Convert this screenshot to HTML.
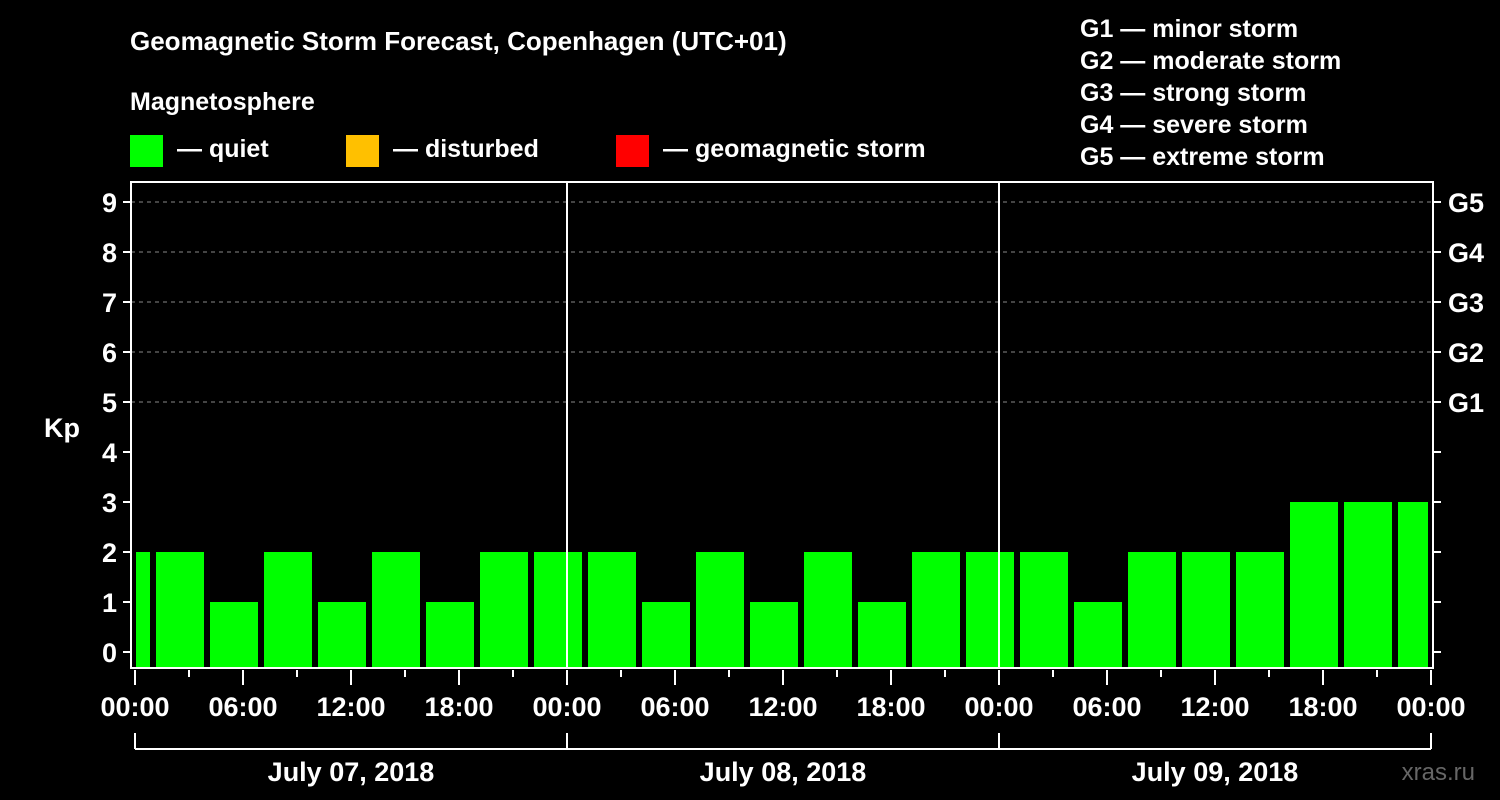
<!DOCTYPE html>
<html><head><meta charset="utf-8"><style>
html,body{margin:0;padding:0;background:#000;}
svg{display:block;font-family:"Liberation Sans",Arial,sans-serif;font-weight:bold;}
</style></head><body>
<svg id="chart" width="1500" height="800" viewBox="0 0 1500 800">
<rect x="0" y="0" width="1500" height="800" fill="#000"/>
<text x="130" y="50" font-size="26" fill="#fff">Geomagnetic Storm Forecast, Copenhagen (UTC+01)</text>
<text x="130" y="110" font-size="25" fill="#fff">Magnetosphere</text>
<g><rect x="130" y="135" width="33" height="32" fill="#00ff00"/><text x="177" y="157" font-size="25" fill="#fff">— quiet</text></g>
<g><rect x="346" y="135" width="33" height="32" fill="#ffc000"/><text x="393" y="157" font-size="25" fill="#fff">— disturbed</text></g>
<g><rect x="616" y="135" width="33" height="32" fill="#ff0000"/><text x="663" y="157" font-size="25" fill="#fff">— geomagnetic storm</text></g>
<g font-size="25" fill="#fff">
<text x="1080" y="37">G1 — minor storm</text>
<text x="1080" y="69">G2 — moderate storm</text>
<text x="1080" y="101">G3 — strong storm</text>
<text x="1080" y="133">G4 — severe storm</text>
<text x="1080" y="165">G5 — extreme storm</text>
</g>
<g id="grid"></g>
<g id="bars"></g>
<g id="axes"></g>
<text x="62" y="437" font-size="27" fill="#fff" text-anchor="middle">Kp</text>
<text x="1475" y="780" font-size="24" fill="#666" font-weight="normal" text-anchor="end">xras.ru</text>
</svg>
<script>
const kpValues = [2,2,1,2,1,2,1,2,2,2,1,2,1,2,1,2,2,2,1,2,2,2,3,3,3];
const startHour = -2;
const intervalHours = 3;
const dayLabels = ["July 07, 2018","July 08, 2018","July 09, 2018"];
const timeLabels = ["00:00","06:00","12:00","18:00"];
const gLabels = ["G1","G2","G3","G4","G5"];

const NS="http://www.w3.org/2000/svg";
const X0=135, PXH=18, TOTALH=72, AXL=131, AXR=1433, TOP=182, BOT=668;
const xs=h=>X0+h*PXH;
const ys=v=>652-50*v;
function mk(tag,attrs,parent,text){const e=document.createElementNS(NS,tag);for(const k in attrs)e.setAttribute(k,attrs[k]);if(text!==undefined)e.textContent=text;parent.appendChild(e);return e;}
const grid=document.getElementById('grid'),bars=document.getElementById('bars'),axes=document.getElementById('axes');
function color(v){return v>=5?'#ff0000':(v>=4?'#ffc000':'#00ff00');}
// gridlines
for(let v=5;v<=9;v++){
  const l=mk('line',{x1:AXL,x2:AXR,y1:ys(v),y2:ys(v),stroke:'#888','stroke-width':1,'stroke-dasharray':'4,4'},grid);
  
  
}
// bars
kpValues.forEach((v,i)=>{
  const h0=startHour+i*intervalHours,h1=h0+intervalHours;
  let x1=xs(h0)+3,x2=xs(h1)-3;
  if(h0<0)x1=Math.max(x1,X0+1);
  if(h1>TOTALH)x2=Math.min(x2,xs(TOTALH)-3);
  const r=mk('rect',{x:x1,y:ys(v),width:x2-x1,height:BOT-ys(v),fill:color(v)},bars);
  
  
});
// day separators
for(let d=1;d<dayLabels.length;d++){
  const l=mk('line',{x1:xs(d*24),x2:xs(d*24),y1:TOP,y2:BOT,stroke:'#fff','stroke-width':2},axes);
  
  
}
// frame
const fr=mk('rect',{x:AXL,y:TOP,width:AXR-AXL,height:BOT-TOP,fill:'none',stroke:'#fff','stroke-width':2},axes);


// y ticks
for(let v=0;v<=9;v++){
  mk('line',{x1:AXL-8,x2:AXL,y1:ys(v),y2:ys(v),stroke:'#fff','stroke-width':2},axes);
  mk('line',{x1:AXR,x2:AXR+8,y1:ys(v),y2:ys(v),stroke:'#fff','stroke-width':2},axes);
  const t=mk('text',{x:117,y:ys(v)+10,'font-size':27,fill:'#fff','text-anchor':'end'},axes,String(v));
  
  
}
gLabels.forEach((g,i)=>{
  const t=mk('text',{x:1448,y:ys(i+5)+10,'font-size':27,fill:'#fff'},axes,g);
  
  
});
// x ticks
for(let h=0;h<=TOTALH;h+=3){
  const major=h%6===0;
  mk('line',{x1:xs(h),x2:xs(h),y1:BOT+2,y2:major?BOT+17:BOT+9,stroke:'#fff','stroke-width':2},axes);
  if(major&&(h%24!==0||true)){
    const lbl=timeLabels[(h%24)/6];
    const t=mk('text',{x:xs(h),y:716,'font-size':27,fill:'#fff','text-anchor':'middle'},axes,lbl);
    
    
  }
}
// date brackets
mk('line',{x1:xs(0),x2:xs(TOTALH),y1:749,y2:749,stroke:'#fff','stroke-width':2},axes);
for(let d=0;d<=dayLabels.length;d++){
  mk('line',{x1:xs(d*24),x2:xs(d*24),y1:733,y2:749,stroke:'#fff','stroke-width':2},axes);
}
dayLabels.forEach((lab,d)=>{
  const t=mk('text',{x:xs(d*24+12),y:781,'font-size':27,fill:'#fff','text-anchor':'middle'},axes,lab);
  
  
});
</script>
</body></html>
